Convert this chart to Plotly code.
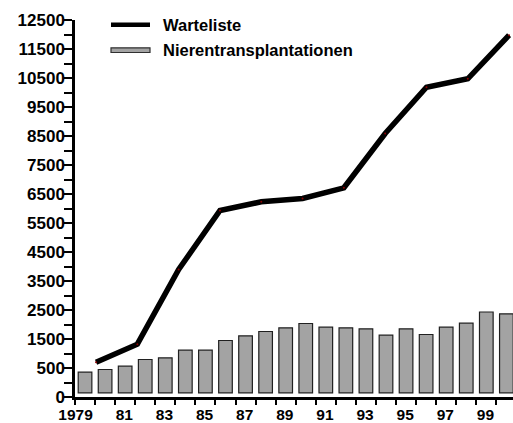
import plotly.graph_objects as go

# ---- data ----
bar_years = list(range(1979, 2001))
transplants = [355, 448, 562, 793, 852, 1114, 1114, 1448, 1610, 1759, 1886,
               2034, 1907, 1886, 1852, 1631, 1852, 1655, 1907, 2045, 2431, 2369]

line_years = [1980, 1982, 1984, 1986, 1988, 1990, 1992, 1994, 1996, 1998, 2000]
waitlist = [700, 1321, 3897, 5931, 6231, 6345, 6714, 8586, 10183, 10472, 11976]

y_tick_vals = [-500, 500, 1500, 2500, 3500, 4500, 5500, 6500, 7500, 8500,
               9500, 10500, 11500, 12500]
y_tick_text = ["0", "500", "1500", "2500", "3500", "4500", "5500", "6500",
               "7500", "8500", "9500", "10500", "11500", "12500"]

x_label_years = [1979, 1981, 1983, 1985, 1987, 1989, 1991, 1993, 1995, 1997, 1999]
x_label_text = ["1979", "81", "83", "85", "87", "89", "91", "93", "95", "97", "99"]

series_names = ["Warteliste", "Nierentransplantationen"]

# ---- styling ----
FONT = "Liberation Sans, Arial, sans-serif"
BAR_BASE = -355
W, H = 513, 423
ML, MR, MT, MB = 75, 0, 20, 26

fig = go.Figure()

fig.add_trace(go.Bar(
    x=bar_years,
    y=[v - BAR_BASE for v in transplants],
    base=BAR_BASE,
    width=0.68,
    marker=dict(color="#a3a3a3", line=dict(color="#202020", width=1.2)),
    name=series_names[1],
    showlegend=False,
    xaxis="x", yaxis="y",
))

fig.add_trace(go.Scatter(
    x=line_years,
    y=waitlist,
    mode="lines+markers",
    line=dict(color="black", width=5.5),
    marker=dict(size=2, color="#8b0000"),
    name=series_names[0],
    showlegend=False,
    xaxis="x2", yaxis="y",
))

# x tick marks at category boundaries, labels right-aligned on the boundary
x_tick_vals = [y + 0.5 for y in range(1978, 2001)]
x_tick_text = []
for tv in x_tick_vals:
    yr = int(tv - 0.5)
    if yr in x_label_years:
        x_tick_text.append(x_label_text[x_label_years.index(yr)])
    else:
        x_tick_text.append("")

minor_y = list(range(-500, 12501, 500))

fig.update_layout(
    width=W, height=H,
    margin=dict(l=ML, r=MR, t=MT, b=MB, pad=0, autoexpand=False),
    paper_bgcolor="white", plot_bgcolor="white",
    font=dict(family=FONT, color="black"),
    bargap=0.3,
    xaxis=dict(
        range=[1978.5, 2000.33],
        tickmode="array", tickvals=x_tick_vals, ticktext=x_tick_text,
        ticks="outside", ticklen=5, tickwidth=2, tickcolor="black",
        ticklabelposition="outside left", ticklabelstandoff=2,
        tickfont=dict(family=FONT, size=15.5, color="black", weight="bold"),
        showline=True, linecolor="black", linewidth=2.5,
        showgrid=False, zeroline=False, automargin=False,
    ),
    xaxis2=dict(
        range=[1978.98, 2000.19],
        overlaying="x", visible=False, showgrid=False, zeroline=False,
    ),
    yaxis=dict(
        range=[-500, 12500],
        tickmode="array", tickvals=y_tick_vals, ticktext=y_tick_text,
        ticks="outside", ticklen=8, tickwidth=2, tickcolor="black",
        ticklabelstandoff=-4,
        tickfont=dict(family=FONT, size=17, color="black", weight="bold"),
        minor=dict(tickmode="array", tickvals=minor_y, ticks="outside",
                   ticklen=8, tickwidth=2, tickcolor="black", showgrid=False),
        showline=True, linecolor="black", linewidth=2.5,
        showgrid=False, zeroline=False, automargin=False,
    ),
)

# ---- manual legend ----
pw = W - ML - MR
ph = H - MT - MB
def px_x(x):
    return (x - ML) / pw
def px_y(y):
    return (H - MB - y) / ph

fig.add_shape(type="line", xref="paper", yref="paper",
              x0=px_x(111), x1=px_x(150), y0=px_y(24.7), y1=px_y(24.7),
              line=dict(color="black", width=4.5))
fig.add_shape(type="rect", xref="paper", yref="paper",
              x0=px_x(111), x1=px_x(150), y0=px_y(52.5), y1=px_y(47.8),
              fillcolor="#a3a3a3", line=dict(color="#303030", width=1.2))
fig.add_annotation(xref="paper", yref="paper", x=px_x(161), y=px_y(24.5),
                   text=series_names[0], showarrow=False, xanchor="left", yanchor="middle",
                   font=dict(family=FONT, size=16.5, color="black", weight="bold"))
fig.add_annotation(xref="paper", yref="paper", x=px_x(161), y=px_y(50),
                   text=series_names[1], showarrow=False, xanchor="left", yanchor="middle",
                   font=dict(family=FONT, size=16.5, color="black", weight="bold"))

fig.write_html("out.html",
               config={"displayModeBar": False},
               post_script="document.body.style.margin='0';document.body.style.overflow='hidden';")
